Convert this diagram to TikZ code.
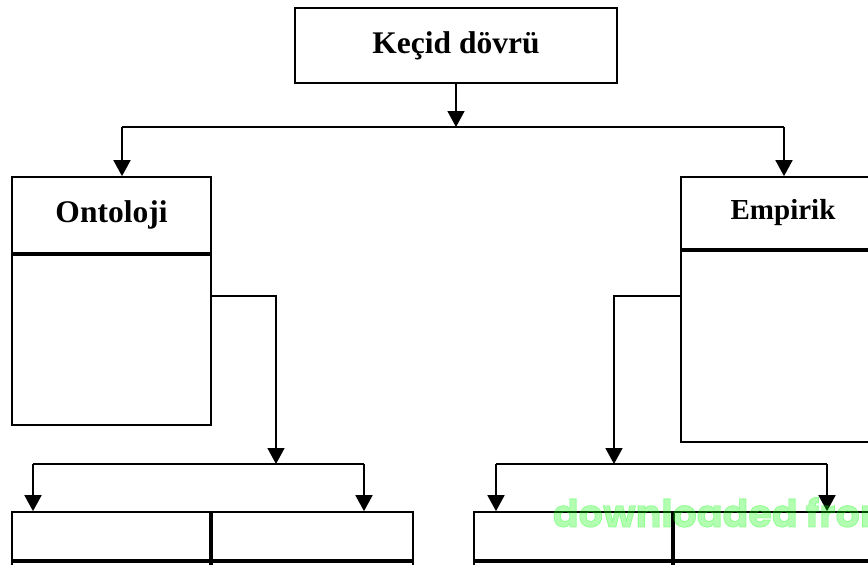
\documentclass[tikz,border=0pt]{standalone}
\usepackage{fontspec}
\setmainfont{Liberation Serif}
\newfontfamily\markfont[FakeBold=2]{Poppins}
\usetikzlibrary{arrows.meta}
\definecolor{markgreen}{RGB}{0,255,0}

\begin{document}
\begin{tikzpicture}[x=1pt, y=-1pt, line width=1.7pt,
        box/.style={draw, rectangle, inner sep=0pt, font=\bfseries\fontsize{31.5}{36}\selectfont},
        arr/.style={-{Triangle[width=17pt,length=16pt]}}]
        \useasboundingbox (0,0) rectangle (868,565);
        \clip (0,0) rectangle (868,565);

        % top box
        \node[box, minimum width=322pt, minimum height=75pt] (kecid) at (456,45.5) {Keçid dövrü};

        % Ontoloji
        \node[box, minimum width=199pt, minimum height=76pt] (onthead) at (111.5,215) {Ontoloji};
        \node[box, minimum width=199pt, minimum height=170pt, anchor=north] (ontbody) at (onthead.south) {};

        % Empirik
        \node[box, minimum width=204pt, minimum height=72pt, font=\bfseries\fontsize{29}{33}\selectfont] (emphead) at (783,213) {Empirik};
        \node[box, minimum width=204pt, minimum height=191pt, anchor=north] (empbody) at (emphead.south) {};

        % bottom cells
        \node[box, minimum width=198pt, minimum height=48pt] (cellA) at (111,536) {};
        \node[box, minimum width=201pt, minimum height=48pt, anchor=west] (cellB) at (cellA.east) {};
        \node[box, minimum width=198pt, minimum height=48pt, anchor=north] (cellA2) at (cellA.south) {};
        \node[box, minimum width=201pt, minimum height=48pt, anchor=north] (cellB2) at (cellB.south) {};
        \node[box, minimum width=198pt, minimum height=48pt] (cellC) at (573,536) {};
        \node[box, minimum width=210pt, minimum height=48pt, anchor=west] (cellD) at (cellC.east) {};
        \node[box, minimum width=198pt, minimum height=48pt, anchor=north] (cellC2) at (cellC.south) {};
        \node[box, minimum width=210pt, minimum height=48pt, anchor=north] (cellD2) at (cellD.south) {};

        % split points
        \coordinate (topsplit) at (456,127);
        \coordinate (topL) at (122,127);
        \coordinate (topR) at (784,127);
        \coordinate (ontlink) at (276,296);
        \coordinate (botLsplit) at (276,464);
        \coordinate (botLa) at (33,464);
        \coordinate (botLb) at (364,464);
        \coordinate (emplink) at (614,296);
        \coordinate (botRsplit) at (614,464);
        \coordinate (botRa) at (496,464);
        \coordinate (botRb) at (827,464);

        \draw[arr] (kecid.south) -- (topsplit);
        \draw (topL) -- (topR);
        \draw[arr] (topL) -- (topL |- onthead.north);
        \draw[arr] (topR) -- (topR |- emphead.north);

        \draw[arr] (ontbody.east |- ontlink) -- (ontlink) -- (botLsplit);
        \draw (botLa) -- (botLb);
        \draw[arr] (botLa) -- (botLa |- cellA.north);
        \draw[arr] (botLb) -- (botLb |- cellB.north);

        \draw[arr] (empbody.west |- emplink) -- (emplink) -- (botRsplit);
        \draw (botRa) -- (botRb);
        \draw[arr] (botRa) -- (botRa |- cellC.north);
        \draw[arr] (botRb) -- (botRb |- cellD.north);

        % watermark
        \node[anchor=base west, inner sep=0pt, text=markgreen, text opacity=0.3,
              font=\markfont\bfseries\fontsize{38}{40}\selectfont] (mark) at (552,527) {downloaded from};
\end{tikzpicture}
\end{document}
